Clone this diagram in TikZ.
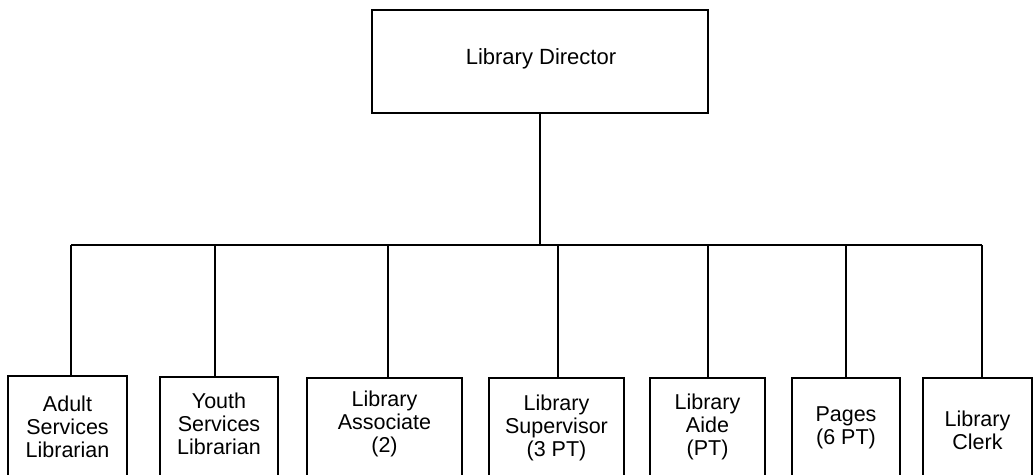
\documentclass[tikz,border=0pt]{standalone}
\usepackage{fontspec}
\setmainfont{Liberation Sans}
\begin{document}
\begin{tikzpicture}[x=1pt,y=-1pt,
  box/.style={draw=black,line width=1.8pt,rectangle,inner sep=0pt,anchor=north,minimum height=140pt},
  lbl/.style={align=center,inner sep=0pt,font=\fontsize{21.5}{23}\selectfont},
  conn/.style={draw=black,line width=1.8pt}]
\useasboundingbox (0,0) rectangle (1035,474);
\clip (0,0) rectangle (1035,474);
% director
\node[draw=black,line width=1.8pt,inner sep=0pt,minimum width=336pt,minimum height=103pt] (dir) at (540,61.5) {};
\node[lbl,font=\fontsize{22}{24}\selectfont] (dirT) at (541,59) {Library Director};
% bottom boxes
\node[box,minimum width=119pt] (adult) at (67.5,375) {};
\node[box,minimum width=118pt] (youth) at (219,376) {};
\node[box,minimum width=155pt] (assoc) at (384.5,377) {};
\node[box,minimum width=135pt] (super) at (556.5,377) {};
\node[box,minimum width=115pt] (aide) at (707.5,377) {};
\node[box,minimum width=108pt] (pages) at (846,377) {};
\node[box,minimum width=109pt] (clerk) at (977.5,377) {};
% texts
\node[lbl] (adultT) at (67.5,427) {Adult\\Services\\Librarian};
\node[lbl] (youthT) at (219,424) {Youth\\Services\\Librarian};
\node[lbl] (assocT) at (384.5,424) {Library\\Associate\\(2)};
\node[lbl] (superT) at (556.5,428) {Library\\Supervisor\\(3 PT)};
\node[lbl] (aideT) at (707.5,427) {Library\\Aide\\(PT)};
\node[lbl] (pagesT) at (846,428) {Pages\\(6 PT)};
\node[lbl] (clerkT) at (977.5,430) {Library\\Clerk};
% bus coordinates
\coordinate (b1) at (71,245);
\coordinate (b2) at (215,245);
\coordinate (b3) at (388,245);
\coordinate (b4) at (558,245);
\coordinate (b5) at (708,245);
\coordinate (b6) at (846,245);
\coordinate (b7) at (982,245);
% connectors
\draw[conn] (dir.south) -- (dir.south |- b1);
\draw[conn] (b1) -- (b7);
\draw[conn] (b1) -- (b1 |- adult.north);
\draw[conn] (b2) -- (b2 |- youth.north);
\draw[conn] (b3) -- (b3 |- assoc.north);
\draw[conn] (b4) -- (b4 |- super.north);
\draw[conn] (b5) -- (b5 |- aide.north);
\draw[conn] (b6) -- (b6 |- pages.north);
\draw[conn] (b7) -- (b7 |- clerk.north);
\end{tikzpicture}
\end{document}
